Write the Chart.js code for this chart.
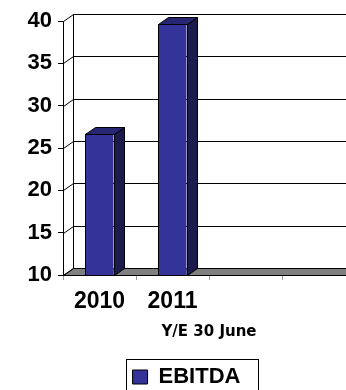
<!DOCTYPE html>
<html>
<head>
<meta charset="utf-8">
<script src="https://cdn.jsdelivr.net/npm/chart.js@4/dist/chart.umd.min.js"></script>
<style>
  html, body { margin: 0; padding: 0; background: #fff; overflow: hidden; width: 346px; height: 390px; }
  #wrap { width: 385px; height: 400px; }
</style>
</head>
<body>
<div id="wrap"><canvas id="c" width="385" height="400"></canvas></div>
<script>
const categories = ['2010', '2011', '', ''];
const ebitda = [26.7, 39.6, null, null];
const seriesName = 'EBITDA';
const axisTitle = 'Y/E 30 June';
const yMin = 10, yMax = 40, yStep = 5;

const DX = 10, DY = -7;
const FRONT = '#333399', TOP = '#262673', SIDE = '#1b1b4e';

const threeD = {
  id: 'threeD',
  beforeDatasetsDraw(chart) {
    const { ctx, chartArea: a, scales: { y } } = chart;
    const L = Math.round(a.left) + 0.5;
    const R = Math.round(a.right) + 0.5;
    const yb = Math.round(y.getPixelForValue(yMin)) + 0.5;
    const yt = Math.round(y.getPixelForValue(yMax)) + 0.5;
    ctx.save();
    ctx.lineWidth = 1;
    ctx.strokeStyle = '#000';
    // floor
    ctx.fillStyle = '#808080';
    ctx.beginPath();
    ctx.moveTo(L, yb); ctx.lineTo(R, yb);
    ctx.lineTo(R + DX, yb + DY); ctx.lineTo(L + DX, yb + DY);
    ctx.closePath(); ctx.fill(); ctx.stroke();
    // side wall diagonals + back gridlines
    y.ticks.forEach(t => {
      const py = Math.round(y.getPixelForValue(t.value)) + 0.5;
      ctx.beginPath();
      ctx.moveTo(L, py); ctx.lineTo(L + DX, py + DY);
      if (t.value > yMin) ctx.lineTo(R + DX, py + DY);
      ctx.stroke();
    });
    // back wall left edge
    ctx.beginPath();
    ctx.moveTo(L + DX, yt + DY); ctx.lineTo(L + DX, yb + DY);
    ctx.stroke();
    ctx.restore();
  },
  afterDatasetsDraw(chart) {
    const { ctx, scales: { y: ys } } = chart;
    const meta = chart.getDatasetMeta(0);
    const floorPx = ys.getPixelForValue(yMin);
    ctx.save();
    ctx.lineWidth = 1;
    ctx.strokeStyle = '#000';
    meta.data.forEach((bar, i) => {
      if (ebitda[i] == null) return;
      const { x, y, width, base } = bar.getProps(['x', 'y', 'width', 'base'], true);
      const l = Math.round(x - width / 2) + 0.5;
      const r = Math.round(x + width / 2) + 0.5;
      const t = Math.round(y) + 0.5;
      const b = Math.round(Math.min(base, floorPx)) + 0.5;
      // side
      ctx.fillStyle = SIDE;
      ctx.beginPath();
      ctx.moveTo(r, t); ctx.lineTo(r + DX, t + DY); ctx.lineTo(r + DX, b + DY); ctx.lineTo(r, b);
      ctx.closePath(); ctx.fill(); ctx.stroke();
      // top
      ctx.fillStyle = TOP;
      ctx.beginPath();
      ctx.moveTo(l, t); ctx.lineTo(l + DX, t + DY); ctx.lineTo(r + DX, t + DY); ctx.lineTo(r, t);
      ctx.closePath(); ctx.fill(); ctx.stroke();
      // front outline
      ctx.strokeRect(l, t, r - l, b - t);
    });
    ctx.restore();
  },
  afterDraw(chart) {
    const lg = chart.legend;
    if (!lg || !lg.legendHitBoxes || !lg.legendHitBoxes.length) return;
    const hb = lg.legendHitBoxes[0];
    const { ctx } = chart;
    ctx.save();
    ctx.strokeStyle = '#000';
    ctx.lineWidth = 1;
    const x0 = Math.round(hb.left - 7) + 0.5;
    const x1 = Math.round(hb.left + hb.width + 18) + 0.5;
    const y0 = Math.round(hb.top - 7) + 0.5;
    const y1 = Math.round(hb.top + hb.height + 12) + 0.5;
    ctx.strokeRect(x0, y0, x1 - x0, y1 - y0);
    ctx.restore();
  }
};

new Chart(document.getElementById('c'), {
  type: 'bar',
  data: {
    labels: categories,
    datasets: [{
      label: seriesName,
      data: ebitda,
      backgroundColor: FRONT,
      borderColor: '#000',
      borderWidth: 0,
      categoryPercentage: 1,
      barPercentage: 0.384
    }]
  },
  options: {
    responsive: false,
    animation: false,
    layout: { padding: { left: 18, right: 30, top: 21, bottom: 2 } },
    scales: {
      x: {
        grid: { display: true, drawOnChartArea: false, drawTicks: true, tickLength: 5, color: '#999', offset: true },
        border: { display: true, color: '#000', width: 1 },
        ticks: { color: '#000', padding: 8, maxRotation: 0, autoSkip: false,
                 font: { family: 'Liberation Sans', weight: 'bold', size: 23 } },
        title: { display: true, text: axisTitle, color: '#000',
                 font: { family: 'DejaVu Sans', weight: 'bold', size: 15 },
                 padding: { top: 0, bottom: 15 } },
        afterFit(s) { s.height = 81; }
      },
      y: {
        min: yMin, max: yMax,
        grid: { display: true, drawOnChartArea: false, drawTicks: true, tickLength: 5, color: '#000' },
        border: { display: true, color: '#000', width: 1 },
        ticks: { stepSize: yStep, color: '#000', padding: 6,
                 font: { family: 'Liberation Sans', weight: 'bold', size: 22 } },
        afterFit(s) { s.width = 45; }
      }
    },
    plugins: {
      legend: {
        position: 'bottom',
        labels: { boxWidth: 15, boxHeight: 14, color: '#000', padding: 10,
                  font: { family: 'Liberation Sans', weight: 'bold', size: 22 },
                  generateLabels(chart) {
                    return [{ text: seriesName, fillStyle: FRONT, strokeStyle: '#000', lineWidth: 1, datasetIndex: 0, hidden: false }];
                  } }
      },
      tooltip: { enabled: false }
    }
  },
  plugins: [threeD]
});
</script>
</body>
</html>
